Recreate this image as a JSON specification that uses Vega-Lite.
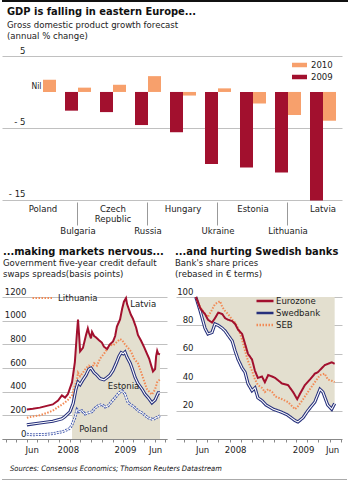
{
  "$schema": "https://vega.github.io/schema/vega-lite/v6.json",
  "background": "white",
  "padding": {"left": 2, "top": 0, "right": 0, "bottom": 0},
  "spacing": 3,
  "resolve": {"scale": {"color": "independent", "strokeDash": "independent"}, "legend": {"color": "independent", "strokeDash": "independent"}},
  "config": {
    "font": "Liberation Sans Narrow, DejaVu Sans Condensed, sans-serif",
    "view": {"stroke": null},
    "axis": {"labelFont": "Liberation Sans Narrow, DejaVu Sans Condensed, sans-serif", "labelFontSize": 9.5, "labelColor": "#222", "gridColor": "#b0b0b0", "gridWidth": 0.8, "domainColor": "#888", "tickColor": "#888"},
    "title": {"anchor": "start", "frame": "group", "font": "Liberation Sans Narrow, DejaVu Sans Condensed, sans-serif", "fontSize": 11, "fontWeight": "bold", "color": "#111", "subtitleFont": "Liberation Sans Narrow, DejaVu Sans Condensed, sans-serif", "subtitleFontSize": 9.5, "subtitleColor": "#222", "subtitlePadding": 1, "subtitleLineHeight": 11, "offset": 8},
    "legend": {"labelFont": "Liberation Sans Narrow, DejaVu Sans Condensed, sans-serif", "labelFontSize": 9.5, "labelColor": "#222", "padding": 0}
  },
  "datasets": {
    "gdp": [
      {"country": "Poland", "year": "2009", "value": 0},
      {"country": "Poland", "year": "2010", "value": 1.7},
      {"country": "Bulgaria", "year": "2009", "value": -2.6},
      {"country": "Bulgaria", "year": "2010", "value": 0.6},
      {"country": "Czech Republic", "year": "2009", "value": -2.8},
      {"country": "Czech Republic", "year": "2010", "value": 1.0},
      {"country": "Russia", "year": "2009", "value": -4.6},
      {"country": "Russia", "year": "2010", "value": 2.2},
      {"country": "Hungary", "year": "2009", "value": -5.6},
      {"country": "Hungary", "year": "2010", "value": -0.5},
      {"country": "Ukraine", "year": "2009", "value": -10.0},
      {"country": "Ukraine", "year": "2010", "value": 0.5},
      {"country": "Estonia", "year": "2009", "value": -10.5},
      {"country": "Estonia", "year": "2010", "value": -1.6},
      {"country": "Lithuania", "year": "2009", "value": -11.2},
      {"country": "Lithuania", "year": "2010", "value": -3.2},
      {"country": "Latvia", "year": "2009", "value": -15.1},
      {"country": "Latvia", "year": "2010", "value": -4.0}
    ],
    "cds": [
      {"date": "2008-06-01", "series": "Poland", "value": 40},
      {"date": "2008-06-18", "series": "Poland", "value": 35},
      {"date": "2008-07-08", "series": "Poland", "value": 38},
      {"date": "2008-07-28", "series": "Poland", "value": 40},
      {"date": "2008-08-14", "series": "Poland", "value": 45},
      {"date": "2008-08-29", "series": "Poland", "value": 55},
      {"date": "2008-09-09", "series": "Poland", "value": 60},
      {"date": "2008-09-18", "series": "Poland", "value": 70},
      {"date": "2008-10-02", "series": "Poland", "value": 90},
      {"date": "2008-10-08", "series": "Poland", "value": 122},
      {"date": "2008-10-16", "series": "Poland", "value": 180},
      {"date": "2008-10-22", "series": "Poland", "value": 250},
      {"date": "2008-10-28", "series": "Poland", "value": 230},
      {"date": "2008-11-05", "series": "Poland", "value": 240},
      {"date": "2008-11-14", "series": "Poland", "value": 210},
      {"date": "2008-11-22", "series": "Poland", "value": 220},
      {"date": "2008-12-04", "series": "Poland", "value": 230},
      {"date": "2008-12-12", "series": "Poland", "value": 260},
      {"date": "2008-12-21", "series": "Poland", "value": 280},
      {"date": "2009-01-01", "series": "Poland", "value": 292},
      {"date": "2009-01-10", "series": "Poland", "value": 270},
      {"date": "2009-01-19", "series": "Poland", "value": 280},
      {"date": "2009-01-30", "series": "Poland", "value": 320},
      {"date": "2009-02-08", "series": "Poland", "value": 350},
      {"date": "2009-02-19", "series": "Poland", "value": 390},
      {"date": "2009-02-28", "series": "Poland", "value": 408},
      {"date": "2009-03-08", "series": "Poland", "value": 380},
      {"date": "2009-03-17", "series": "Poland", "value": 306},
      {"date": "2009-03-25", "series": "Poland", "value": 290},
      {"date": "2009-04-06", "series": "Poland", "value": 264},
      {"date": "2009-04-14", "series": "Poland", "value": 240},
      {"date": "2009-04-26", "series": "Poland", "value": 221},
      {"date": "2009-05-04", "series": "Poland", "value": 200},
      {"date": "2009-05-13", "series": "Poland", "value": 179},
      {"date": "2009-05-22", "series": "Poland", "value": 170},
      {"date": "2009-05-27", "series": "Poland", "value": 164},
      {"date": "2009-06-05", "series": "Poland", "value": 180},
      {"date": "2009-06-16", "series": "Poland", "value": 196},
      {"date": "2008-06-01", "series": "Lithuania", "value": 180},
      {"date": "2008-06-18", "series": "Lithuania", "value": 190},
      {"date": "2008-07-08", "series": "Lithuania", "value": 200},
      {"date": "2008-07-28", "series": "Lithuania", "value": 220},
      {"date": "2008-08-14", "series": "Lithuania", "value": 240},
      {"date": "2008-08-29", "series": "Lithuania", "value": 270},
      {"date": "2008-09-09", "series": "Lithuania", "value": 290},
      {"date": "2008-09-18", "series": "Lithuania", "value": 310},
      {"date": "2008-09-26", "series": "Lithuania", "value": 330},
      {"date": "2008-10-08", "series": "Lithuania", "value": 370},
      {"date": "2008-10-16", "series": "Lithuania", "value": 450},
      {"date": "2008-10-22", "series": "Lithuania", "value": 500},
      {"date": "2008-10-25", "series": "Lithuania", "value": 560},
      {"date": "2008-10-31", "series": "Lithuania", "value": 530},
      {"date": "2008-11-08", "series": "Lithuania", "value": 560},
      {"date": "2008-11-17", "series": "Lithuania", "value": 600},
      {"date": "2008-11-25", "series": "Lithuania", "value": 620},
      {"date": "2008-12-04", "series": "Lithuania", "value": 600},
      {"date": "2008-12-10", "series": "Lithuania", "value": 640},
      {"date": "2008-12-18", "series": "Lithuania", "value": 620},
      {"date": "2008-12-27", "series": "Lithuania", "value": 680},
      {"date": "2009-01-07", "series": "Lithuania", "value": 720},
      {"date": "2009-01-16", "series": "Lithuania", "value": 760},
      {"date": "2009-01-24", "series": "Lithuania", "value": 800},
      {"date": "2009-02-02", "series": "Lithuania", "value": 790},
      {"date": "2009-02-13", "series": "Lithuania", "value": 820},
      {"date": "2009-02-22", "series": "Lithuania", "value": 845},
      {"date": "2009-02-28", "series": "Lithuania", "value": 835},
      {"date": "2009-03-08", "series": "Lithuania", "value": 800},
      {"date": "2009-03-17", "series": "Lithuania", "value": 770},
      {"date": "2009-03-25", "series": "Lithuania", "value": 740},
      {"date": "2009-04-03", "series": "Lithuania", "value": 680},
      {"date": "2009-04-14", "series": "Lithuania", "value": 640},
      {"date": "2009-04-26", "series": "Lithuania", "value": 540},
      {"date": "2009-05-04", "series": "Lithuania", "value": 470},
      {"date": "2009-05-10", "series": "Lithuania", "value": 420},
      {"date": "2009-05-19", "series": "Lithuania", "value": 390},
      {"date": "2009-05-24", "series": "Lithuania", "value": 375},
      {"date": "2009-06-02", "series": "Lithuania", "value": 420},
      {"date": "2009-06-08", "series": "Lithuania", "value": 480},
      {"date": "2009-06-16", "series": "Lithuania", "value": 505},
      {"date": "2008-06-01", "series": "Estonia", "value": 120},
      {"date": "2008-07-08", "series": "Estonia", "value": 135},
      {"date": "2008-08-14", "series": "Estonia", "value": 150},
      {"date": "2008-09-09", "series": "Estonia", "value": 170},
      {"date": "2008-09-18", "series": "Estonia", "value": 190},
      {"date": "2008-10-02", "series": "Estonia", "value": 230},
      {"date": "2008-10-11", "series": "Estonia", "value": 300},
      {"date": "2008-10-19", "series": "Estonia", "value": 420},
      {"date": "2008-10-25", "series": "Estonia", "value": 480},
      {"date": "2008-10-31", "series": "Estonia", "value": 460},
      {"date": "2008-11-08", "series": "Estonia", "value": 500},
      {"date": "2008-11-17", "series": "Estonia", "value": 540},
      {"date": "2008-11-25", "series": "Estonia", "value": 590},
      {"date": "2008-12-01", "series": "Estonia", "value": 600},
      {"date": "2008-12-10", "series": "Estonia", "value": 560},
      {"date": "2008-12-18", "series": "Estonia", "value": 540},
      {"date": "2008-12-27", "series": "Estonia", "value": 510},
      {"date": "2009-01-07", "series": "Estonia", "value": 500},
      {"date": "2009-01-16", "series": "Estonia", "value": 520},
      {"date": "2009-01-24", "series": "Estonia", "value": 540},
      {"date": "2009-02-02", "series": "Estonia", "value": 580},
      {"date": "2009-02-11", "series": "Estonia", "value": 640},
      {"date": "2009-02-19", "series": "Estonia", "value": 700},
      {"date": "2009-02-25", "series": "Estonia", "value": 730},
      {"date": "2009-03-03", "series": "Estonia", "value": 720},
      {"date": "2009-03-08", "series": "Estonia", "value": 735},
      {"date": "2009-03-14", "series": "Estonia", "value": 690},
      {"date": "2009-03-23", "series": "Estonia", "value": 640},
      {"date": "2009-03-28", "series": "Estonia", "value": 600},
      {"date": "2009-04-06", "series": "Estonia", "value": 520},
      {"date": "2009-04-14", "series": "Estonia", "value": 470},
      {"date": "2009-04-26", "series": "Estonia", "value": 420},
      {"date": "2009-05-04", "series": "Estonia", "value": 380},
      {"date": "2009-05-13", "series": "Estonia", "value": 350},
      {"date": "2009-05-24", "series": "Estonia", "value": 306},
      {"date": "2009-06-02", "series": "Estonia", "value": 330},
      {"date": "2009-06-11", "series": "Estonia", "value": 390},
      {"date": "2009-06-16", "series": "Estonia", "value": 390},
      {"date": "2008-06-01", "series": "Latvia", "value": 250},
      {"date": "2008-06-18", "series": "Latvia", "value": 255},
      {"date": "2008-07-08", "series": "Latvia", "value": 265},
      {"date": "2008-07-28", "series": "Latvia", "value": 280},
      {"date": "2008-08-14", "series": "Latvia", "value": 292},
      {"date": "2008-08-29", "series": "Latvia", "value": 325},
      {"date": "2008-09-09", "series": "Latvia", "value": 368},
      {"date": "2008-09-18", "series": "Latvia", "value": 350},
      {"date": "2008-09-26", "series": "Latvia", "value": 378},
      {"date": "2008-10-08", "series": "Latvia", "value": 480},
      {"date": "2008-10-16", "series": "Latvia", "value": 650},
      {"date": "2008-10-22", "series": "Latvia", "value": 900},
      {"date": "2008-10-25", "series": "Latvia", "value": 1010},
      {"date": "2008-10-28", "series": "Latvia", "value": 880},
      {"date": "2008-10-31", "series": "Latvia", "value": 740},
      {"date": "2008-11-08", "series": "Latvia", "value": 770},
      {"date": "2008-11-17", "series": "Latvia", "value": 880},
      {"date": "2008-11-22", "series": "Latvia", "value": 935},
      {"date": "2008-11-25", "series": "Latvia", "value": 900},
      {"date": "2008-12-01", "series": "Latvia", "value": 850},
      {"date": "2008-12-04", "series": "Latvia", "value": 905},
      {"date": "2008-12-10", "series": "Latvia", "value": 870},
      {"date": "2008-12-15", "series": "Latvia", "value": 860},
      {"date": "2008-12-24", "series": "Latvia", "value": 835},
      {"date": "2009-01-01", "series": "Latvia", "value": 815},
      {"date": "2009-01-07", "series": "Latvia", "value": 780},
      {"date": "2009-01-16", "series": "Latvia", "value": 760},
      {"date": "2009-01-24", "series": "Latvia", "value": 800},
      {"date": "2009-02-02", "series": "Latvia", "value": 825},
      {"date": "2009-02-08", "series": "Latvia", "value": 870},
      {"date": "2009-02-13", "series": "Latvia", "value": 950},
      {"date": "2009-02-22", "series": "Latvia", "value": 1010},
      {"date": "2009-02-28", "series": "Latvia", "value": 1100},
      {"date": "2009-03-05", "series": "Latvia", "value": 1160},
      {"date": "2009-03-11", "series": "Latvia", "value": 1190},
      {"date": "2009-03-14", "series": "Latvia", "value": 1140},
      {"date": "2009-03-20", "series": "Latvia", "value": 1090},
      {"date": "2009-03-25", "series": "Latvia", "value": 1050},
      {"date": "2009-03-31", "series": "Latvia", "value": 1015},
      {"date": "2009-04-09", "series": "Latvia", "value": 940},
      {"date": "2009-04-14", "series": "Latvia", "value": 880},
      {"date": "2009-04-23", "series": "Latvia", "value": 830},
      {"date": "2009-05-02", "series": "Latvia", "value": 775},
      {"date": "2009-05-10", "series": "Latvia", "value": 720},
      {"date": "2009-05-16", "series": "Latvia", "value": 680},
      {"date": "2009-05-22", "series": "Latvia", "value": 620},
      {"date": "2009-05-27", "series": "Latvia", "value": 570},
      {"date": "2009-06-02", "series": "Latvia", "value": 590},
      {"date": "2009-06-05", "series": "Latvia", "value": 700},
      {"date": "2009-06-08", "series": "Latvia", "value": 745},
      {"date": "2009-06-11", "series": "Latvia", "value": 720},
      {"date": "2009-06-16", "series": "Latvia", "value": 715}
    ],
    "cdslabels": [
      {"date": "2009-04-29", "value": 1140, "label": "Latvia"},
      {"date": "2009-03-04", "value": 451, "label": "Estonia"},
      {"date": "2008-12-08", "value": 85, "label": "Poland"}
    ],
    "banks": [
      {"date": "2008-06-01", "series": "Swedbank", "value": 100},
      {"date": "2008-06-13", "series": "Swedbank", "value": 90},
      {"date": "2008-06-26", "series": "Swedbank", "value": 78},
      {"date": "2008-07-04", "series": "Swedbank", "value": 74},
      {"date": "2008-07-15", "series": "Swedbank", "value": 75},
      {"date": "2008-07-23", "series": "Swedbank", "value": 81},
      {"date": "2008-08-01", "series": "Swedbank", "value": 80},
      {"date": "2008-08-12", "series": "Swedbank", "value": 78},
      {"date": "2008-08-20", "series": "Swedbank", "value": 76},
      {"date": "2008-08-28", "series": "Swedbank", "value": 73},
      {"date": "2008-09-08", "series": "Swedbank", "value": 69},
      {"date": "2008-09-16", "series": "Swedbank", "value": 62},
      {"date": "2008-09-24", "series": "Swedbank", "value": 56},
      {"date": "2008-10-05", "series": "Swedbank", "value": 50},
      {"date": "2008-10-13", "series": "Swedbank", "value": 47},
      {"date": "2008-10-21", "series": "Swedbank", "value": 39},
      {"date": "2008-11-01", "series": "Swedbank", "value": 34},
      {"date": "2008-11-09", "series": "Swedbank", "value": 36},
      {"date": "2008-11-17", "series": "Swedbank", "value": 29},
      {"date": "2008-11-28", "series": "Swedbank", "value": 27},
      {"date": "2008-12-09", "series": "Swedbank", "value": 24},
      {"date": "2008-12-29", "series": "Swedbank", "value": 21},
      {"date": "2009-01-19", "series": "Swedbank", "value": 19},
      {"date": "2009-02-05", "series": "Swedbank", "value": 17},
      {"date": "2009-02-26", "series": "Swedbank", "value": 13},
      {"date": "2009-03-06", "series": "Swedbank", "value": 12},
      {"date": "2009-03-20", "series": "Swedbank", "value": 15},
      {"date": "2009-04-02", "series": "Swedbank", "value": 20},
      {"date": "2009-04-21", "series": "Swedbank", "value": 26},
      {"date": "2009-05-05", "series": "Swedbank", "value": 35},
      {"date": "2009-05-13", "series": "Swedbank", "value": 33},
      {"date": "2009-05-26", "series": "Swedbank", "value": 24},
      {"date": "2009-06-06", "series": "Swedbank", "value": 21},
      {"date": "2009-06-14", "series": "Swedbank", "value": 25},
      {"date": "2008-06-01", "series": "SEB", "value": 100},
      {"date": "2008-06-13", "series": "SEB", "value": 93},
      {"date": "2008-06-26", "series": "SEB", "value": 88},
      {"date": "2008-07-04", "series": "SEB", "value": 86},
      {"date": "2008-07-15", "series": "SEB", "value": 91},
      {"date": "2008-07-23", "series": "SEB", "value": 95},
      {"date": "2008-08-06", "series": "SEB", "value": 97},
      {"date": "2008-08-12", "series": "SEB", "value": 93},
      {"date": "2008-08-20", "series": "SEB", "value": 90},
      {"date": "2008-08-28", "series": "SEB", "value": 88},
      {"date": "2008-09-08", "series": "SEB", "value": 84},
      {"date": "2008-09-16", "series": "SEB", "value": 82},
      {"date": "2008-09-24", "series": "SEB", "value": 78},
      {"date": "2008-10-05", "series": "SEB", "value": 70},
      {"date": "2008-10-13", "series": "SEB", "value": 62},
      {"date": "2008-10-21", "series": "SEB", "value": 55},
      {"date": "2008-11-01", "series": "SEB", "value": 48},
      {"date": "2008-11-09", "series": "SEB", "value": 42},
      {"date": "2008-11-17", "series": "SEB", "value": 38},
      {"date": "2008-11-28", "series": "SEB", "value": 36},
      {"date": "2008-12-06", "series": "SEB", "value": 33},
      {"date": "2008-12-15", "series": "SEB", "value": 35},
      {"date": "2008-12-26", "series": "SEB", "value": 33},
      {"date": "2009-01-03", "series": "SEB", "value": 30},
      {"date": "2009-01-22", "series": "SEB", "value": 28},
      {"date": "2009-02-07", "series": "SEB", "value": 26},
      {"date": "2009-02-26", "series": "SEB", "value": 21},
      {"date": "2009-03-06", "series": "SEB", "value": 23},
      {"date": "2009-03-20", "series": "SEB", "value": 28},
      {"date": "2009-04-02", "series": "SEB", "value": 33},
      {"date": "2009-04-21", "series": "SEB", "value": 40},
      {"date": "2009-05-05", "series": "SEB", "value": 45},
      {"date": "2009-05-18", "series": "SEB", "value": 46},
      {"date": "2009-05-26", "series": "SEB", "value": 42},
      {"date": "2009-06-06", "series": "SEB", "value": 41},
      {"date": "2009-06-14", "series": "SEB", "value": 40},
      {"date": "2008-06-01", "series": "Eurozone", "value": 100},
      {"date": "2008-06-13", "series": "Eurozone", "value": 92},
      {"date": "2008-06-26", "series": "Eurozone", "value": 88},
      {"date": "2008-07-04", "series": "Eurozone", "value": 84},
      {"date": "2008-07-15", "series": "Eurozone", "value": 82},
      {"date": "2008-07-23", "series": "Eurozone", "value": 85},
      {"date": "2008-08-01", "series": "Eurozone", "value": 89},
      {"date": "2008-08-12", "series": "Eurozone", "value": 88},
      {"date": "2008-08-20", "series": "Eurozone", "value": 85},
      {"date": "2008-08-28", "series": "Eurozone", "value": 84},
      {"date": "2008-09-08", "series": "Eurozone", "value": 83},
      {"date": "2008-09-16", "series": "Eurozone", "value": 81},
      {"date": "2008-09-24", "series": "Eurozone", "value": 77},
      {"date": "2008-10-05", "series": "Eurozone", "value": 74},
      {"date": "2008-10-13", "series": "Eurozone", "value": 67},
      {"date": "2008-10-21", "series": "Eurozone", "value": 60},
      {"date": "2008-11-01", "series": "Eurozone", "value": 56},
      {"date": "2008-11-09", "series": "Eurozone", "value": 48},
      {"date": "2008-11-17", "series": "Eurozone", "value": 43},
      {"date": "2008-11-28", "series": "Eurozone", "value": 44},
      {"date": "2008-12-06", "series": "Eurozone", "value": 40},
      {"date": "2008-12-15", "series": "Eurozone", "value": 45},
      {"date": "2008-12-26", "series": "Eurozone", "value": 44},
      {"date": "2009-01-03", "series": "Eurozone", "value": 43},
      {"date": "2009-01-22", "series": "Eurozone", "value": 39},
      {"date": "2009-02-07", "series": "Eurozone", "value": 38},
      {"date": "2009-02-21", "series": "Eurozone", "value": 33},
      {"date": "2009-03-04", "series": "Eurozone", "value": 28},
      {"date": "2009-03-12", "series": "Eurozone", "value": 32},
      {"date": "2009-03-25", "series": "Eurozone", "value": 38},
      {"date": "2009-04-08", "series": "Eurozone", "value": 42},
      {"date": "2009-04-21", "series": "Eurozone", "value": 46},
      {"date": "2009-04-29", "series": "Eurozone", "value": 47},
      {"date": "2009-05-18", "series": "Eurozone", "value": 52},
      {"date": "2009-06-06", "series": "Eurozone", "value": 54},
      {"date": "2009-06-14", "series": "Eurozone", "value": 53}
    ]
  },
  "vconcat": [
    {
      "width": 346, "height": 2,
      "data": {"values": [{}]},
      "mark": {"type": "rect", "color": "#111"},
      "encoding": {},
      "view": {"fill": "#111", "stroke": null}
    },
    {
      "spacing": 10,
      "resolve": {"scale": {"color": "independent", "strokeDash": "independent"}, "legend": {"color": "independent", "strokeDash": "independent"}},
      "vconcat": [
        {
          "width": 340, "height": 146,
          "title": {"text": "GDP is falling in eastern Europe...", "subtitle": ["Gross domestic product growth forecast", "(annual % change)"], "fontSize": 11, "dx": 5, "offset": 5, "subtitlePadding": 3},
          "data": {"name": "gdp"},
          "layer": [
            {
              "mark": {"type": "bar"},
              "encoding": {
                "x": {"field": "country", "type": "nominal", "title": null,
                  "sort": ["Poland", "Bulgaria", "Czech Republic", "Russia", "Hungary", "Ukraine", "Estonia", "Lithuania", "Latvia"],
                  "scale": {"paddingInner": 0.2571, "paddingOuter": 0.4857, "align": 0.8235},
                  "axis": {"domain": false, "ticks": true, "tickSize": 23, "tickWidth": 1, "tickColor": "#999",
                    "tickOpacity": {"condition": {"test": "indexof(['Bulgaria','Russia','Ukraine','Lithuania'], datum.value) >= 0", "value": 1}, "value": 0},
                    "labelPadding": {"condition": {"test": "indexof(['Bulgaria','Russia','Ukraine','Lithuania'], datum.value) >= 0", "value": 0}, "value": -22},
                    "labelAngle": 0, "labelBaseline": "top", "labelLineHeight": 10, "labelOverlap": false, "labelBound": false,
                    "labelExpr": "datum.value == 'Czech Republic' ? ['Czech', 'Republic'] : datum.value"}},
                "xOffset": {"field": "year", "type": "nominal", "sort": ["2009", "2010"], "scale": {"paddingInner": 0, "paddingOuter": 0}},
                "y": {"field": "value", "type": "quantitative", "title": null, "stack": null,
                  "scale": {"domain": [-15.3, 5], "nice": false, "zero": false},
                  "axis": {"values": [5, 0, -5, -10, -15], "grid": true, "domain": false, "ticks": false, "labelAlign": "right", "labelBaseline": "alphabetic", "labelPadding": -23, "labelOffset": -3, "labelOverlap": false,
                    "labelExpr": "datum.value < 0 ? '- ' + abs(datum.value) : datum.label"}},
                "color": {"field": "year", "type": "nominal", "scale": {"domain": ["2010", "2009"], "range": ["#F7A06C", "#A2102E"]},
                  "legend": {"orient": "none", "legendX": 290, "legendY": 1.5, "title": null, "symbolType": "M-1,-0.3H1V0.3H-1Z", "symbolSize": 225, "symbolStrokeWidth": 0, "labelOffset": 4, "rowPadding": 0}}
              }
            },
            {
              "transform": [{"filter": "datum.value == 0"}],
              "mark": {"type": "text", "baseline": "alphabetic", "dy": -3, "fontSize": 8.5, "color": "#222"},
              "encoding": {
                "x": {"field": "country", "type": "nominal", "sort": ["Poland", "Bulgaria", "Czech Republic", "Russia", "Hungary", "Ukraine", "Estonia", "Lithuania", "Latvia"]},
                "xOffset": {"field": "year", "type": "nominal", "sort": ["2009", "2010"]},
                "y": {"field": "value", "type": "quantitative"},
                "text": {"value": "Nil"}
              }
            }
          ]
        },
        {
          "spacing": 9,
          "bounds": "flush",
          "resolve": {"scale": {"color": "independent", "strokeDash": "independent"}, "legend": {"color": "independent", "strokeDash": "independent"}},
          "hconcat": [
            {
              "width": 165, "height": 142,
              "title": {"text": "...making markets nervous...", "subtitle": ["Government five-year credit default", "swaps spreads(basis points)"], "dx": 1},
              "data": {"name": "cds"},
              "encoding": {
                "x": {"field": "date", "type": "temporal", "title": null,
                  "scale": {"domain": [{"year": 2008, "month": 3, "date": 22, "utc": true}, {"year": 2009, "month": 7, "date": 6, "utc": true}]},
                  "axis": {"grid": false, "domain": true, "tickSize": 3, "labelPadding": 2, "labelOverlap": false, "labelBound": false, "labelFlush": false, "labelAlign": "center",
                    "values": [
                      {"year": 2008, "month": 4, "date": 1, "utc": true}, {"year": 2008, "month": 5, "date": 1, "utc": true}, {"year": 2008, "month": 6, "date": 1, "utc": true},
                      {"year": 2008, "month": 7, "date": 1, "utc": true}, {"year": 2008, "month": 8, "date": 1, "utc": true}, {"year": 2008, "month": 9, "date": 1, "utc": true},
                      {"year": 2008, "month": 10, "date": 1, "utc": true}, {"year": 2008, "month": 11, "date": 1, "utc": true}, {"year": 2008, "month": 12, "date": 1, "utc": true},
                      {"year": 2009, "month": 1, "date": 1, "utc": true}, {"year": 2009, "month": 2, "date": 1, "utc": true}, {"year": 2009, "month": 3, "date": 1, "utc": true},
                      {"year": 2009, "month": 4, "date": 1, "utc": true}, {"year": 2009, "month": 5, "date": 1, "utc": true}, {"year": 2009, "month": 6, "date": 1, "utc": true},
                      {"year": 2009, "month": 7, "date": 1, "utc": true},
                      {"year": 2008, "month": 6, "date": 15, "utc": true}, {"year": 2008, "month": 9, "date": 26, "utc": true},
                      {"year": 2009, "month": 3, "date": 8, "utc": true}, {"year": 2009, "month": 6, "date": 2, "utc": true}
                    ],
                    "tickOpacity": {"condition": {"test": "utcdate(datum.value) == 1", "value": 1}, "value": 0},
                    "labelExpr": "utcdate(datum.value) == 1 ? '' : (utcmonth(datum.value) == 5 ? 'Jun' : '' + utcyear(datum.value))"}},
                "y": {"field": "value", "type": "quantitative", "title": null,
                  "scale": {"domain": [0, 1200], "nice": false},
                  "axis": {"values": [0, 200, 400, 600, 800, 1000, 1200], "format": "d", "grid": true, "domain": false, "ticks": false, "labelAlign": "right", "labelBaseline": "alphabetic", "labelPadding": -24, "labelOffset": -3, "labelOverlap": false, "labelFlush": false}}
              },
              "layer": [
                {
                  "transform": [{"filter": {"and": [{"field": "series", "equal": "Latvia"}, {"field": "date", "gte": {"year": 2008, "month": 10, "date": 8, "utc": true}}]}}],
                  "mark": {"type": "area", "color": "#E3DFCF"}
                },
                {
                  "transform": [{"filter": "datum.series == 'Poland'"}],
                  "mark": {"type": "line", "color": "#4A5FB0", "strokeWidth": 2.8, "strokeDash": [2, 1]}
                },
                {
                  "transform": [{"filter": "datum.series == 'Poland'"}],
                  "mark": {"type": "line", "color": "white", "strokeWidth": 1}
                },
                {
                  "transform": [{"filter": "datum.series == 'Lithuania'"}],
                  "mark": {"type": "line", "strokeWidth": 2, "strokeDash": [1.5, 1.5]},
                  "encoding": {"color": {"datum": "Lithuania", "scale": {"domain": ["Lithuania"], "range": ["#F28A55"]},
                    "legend": {"orient": "none", "legendX": 33, "legendY": -7, "title": null, "symbolType": "M-1.5,0H1.5", "symbolSize": 196, "symbolStrokeWidth": 2, "symbolDash": [1.5, 1.5], "labelOffset": 7}}}
                },
                {
                  "transform": [{"filter": "datum.series == 'Estonia'"}],
                  "mark": {"type": "line", "color": "#26307C", "strokeWidth": 3.2}
                },
                {
                  "transform": [{"filter": "datum.series == 'Estonia'"}],
                  "mark": {"type": "line", "color": "white", "strokeWidth": 1.1}
                },
                {
                  "transform": [{"filter": "datum.series == 'Latvia'"}],
                  "mark": {"type": "line", "color": "#A2102E", "strokeWidth": 2}
                },
                {
                  "data": {"name": "cdslabels"},
                  "mark": {"type": "text", "fontSize": 9.5, "align": "center", "baseline": "middle", "color": "#222"},
                  "encoding": {"text": {"field": "label"}}
                }
              ]
            },
            {
              "width": 166, "height": 142,
              "title": {"text": "...and hurting Swedish banks", "subtitle": ["Bank's share prices", "(rebased in \u20ac terms)"], "dx": -1},
              "data": {"name": "banks"},
              "encoding": {
                "x": {"field": "date", "type": "temporal", "title": null,
                  "scale": {"domain": [{"year": 2008, "month": 4, "date": 8, "utc": true}, {"year": 2009, "month": 7, "date": 4, "utc": true}]},
                  "axis": {"grid": false, "domain": true, "tickSize": 3, "labelPadding": 2, "labelOverlap": false, "labelBound": false, "labelFlush": false, "labelAlign": "center",
                    "values": [
                      {"year": 2008, "month": 5, "date": 1, "utc": true}, {"year": 2008, "month": 6, "date": 1, "utc": true},
                      {"year": 2008, "month": 7, "date": 1, "utc": true}, {"year": 2008, "month": 8, "date": 1, "utc": true}, {"year": 2008, "month": 9, "date": 1, "utc": true},
                      {"year": 2008, "month": 10, "date": 1, "utc": true}, {"year": 2008, "month": 11, "date": 1, "utc": true}, {"year": 2008, "month": 12, "date": 1, "utc": true},
                      {"year": 2009, "month": 1, "date": 1, "utc": true}, {"year": 2009, "month": 2, "date": 1, "utc": true}, {"year": 2009, "month": 3, "date": 1, "utc": true},
                      {"year": 2009, "month": 4, "date": 1, "utc": true}, {"year": 2009, "month": 5, "date": 1, "utc": true}, {"year": 2009, "month": 6, "date": 1, "utc": true},
                      {"year": 2009, "month": 7, "date": 1, "utc": true},
                      {"year": 2008, "month": 6, "date": 18, "utc": true}, {"year": 2008, "month": 9, "date": 16, "utc": true},
                      {"year": 2009, "month": 3, "date": 20, "utc": true}, {"year": 2009, "month": 6, "date": 7, "utc": true}
                    ],
                    "tickOpacity": {"condition": {"test": "utcdate(datum.value) == 1", "value": 1}, "value": 0},
                    "labelExpr": "utcdate(datum.value) == 1 ? '' : (utcmonth(datum.value) == 5 ? 'Jun' : '' + utcyear(datum.value))"}},
                "y": {"field": "value", "type": "quantitative", "title": null,
                  "scale": {"domain": [0, 100], "nice": false},
                  "axis": {"values": [20, 40, 60, 80, 100], "grid": true, "domain": false, "ticks": false, "labelAlign": "right", "labelBaseline": "alphabetic", "labelPadding": -17, "labelOffset": -3, "labelOverlap": false}}
              },
              "layer": [
                {
                  "transform": [{"filter": "datum.series == 'Swedbank'"}],
                  "mark": {"type": "area", "color": "#E3DFCF"},
                  "encoding": {"y2": {"datum": 100}}
                },
                {
                  "transform": [{"filter": "datum.series == 'Swedbank'"}],
                  "mark": {"type": "line", "strokeWidth": 3.2},
                  "encoding": {"color": {"datum": "Swedbank"}, "strokeDash": {"datum": "Swedbank"}}
                },
                {
                  "transform": [{"filter": "datum.series == 'Swedbank'"}],
                  "mark": {"type": "line", "color": "white", "strokeWidth": 1.1}
                },
                {
                  "transform": [{"filter": "datum.series == 'SEB'"}],
                  "mark": {"type": "line", "strokeWidth": 2},
                  "encoding": {"color": {"datum": "SEB"}, "strokeDash": {"datum": "SEB"}}
                },
                {
                  "transform": [{"filter": "datum.series == 'Eurozone'"}],
                  "mark": {"type": "line", "strokeWidth": 2},
                  "encoding": {
                    "color": {"datum": "Eurozone", "scale": {"domain": ["Eurozone", "Swedbank", "SEB"], "range": ["#A2102E", "#26307C", "#F28A55"]},
                      "legend": {"orient": "none", "legendX": 82.5, "legendY": -2.5, "title": null, "symbolType": "M-1.7,0H1.7", "symbolSize": 100, "symbolStrokeWidth": 2.5, "labelOffset": 4.5, "rowPadding": 0}},
                    "strokeDash": {"datum": "Eurozone", "scale": {"domain": ["Eurozone", "Swedbank", "SEB"], "range": [[1, 0], [1, 0], [1.5, 1.5]]},
                      "legend": {"orient": "none", "legendX": 82.5, "legendY": -2.5, "title": null, "symbolType": "M-1.7,0H1.7", "symbolSize": 100, "symbolStrokeWidth": 2.5, "labelOffset": 4.5, "rowPadding": 0}}
                  }
                }
              ]
            }
          ]
        },
        {
          "width": 345, "height": 1,
          "data": {"values": [{}]},
          "mark": {"type": "rect", "color": "#aaa"},
          "encoding": {},
          "view": {"fill": "#aaa", "stroke": null},
          "title": {"text": "Sources: Consensus Economics; Thomson Reuters Datastream", "fontSize": 7.5, "fontWeight": "normal", "fontStyle": "italic", "dx": 8, "offset": 7}
        }
      ]
    }
  ]
}
